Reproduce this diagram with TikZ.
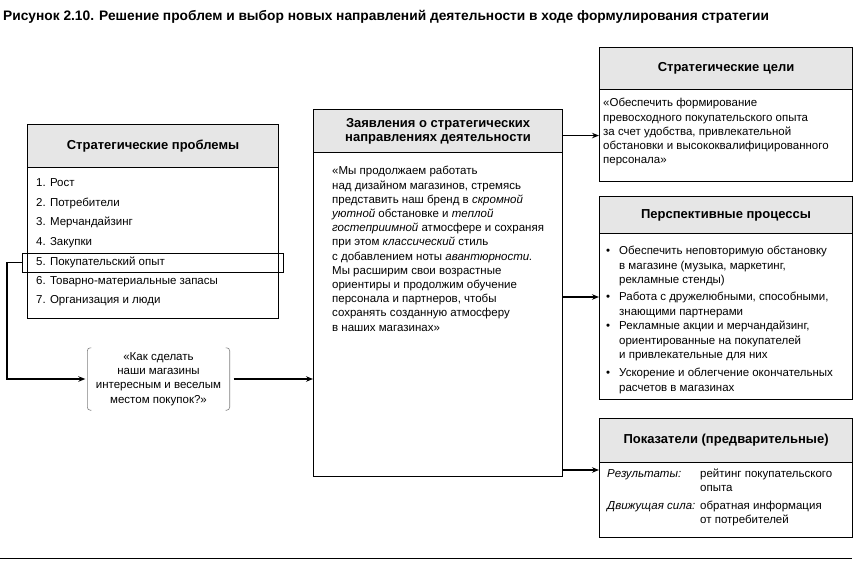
\documentclass[tikz,border=0pt]{standalone}
\usepackage{fontspec}
\setmainfont{Liberation Sans}
\usetikzlibrary{arrows.meta,calc}
\definecolor{hdrgray}{RGB}{230,230,230}
\tikzset{
  box/.style={draw, line width=1.1pt, anchor=north west, inner sep=0pt},
  hdr/.style={box, fill=hdrgray, font=\fontsize{13}{14}\selectfont\bfseries, align=center},
  arr/.style={line width=1.8pt, -{Stealth[length=7pt,width=5.5pt]}},
  txt/.style={font=\fontsize{11.5}{14.2}\selectfont, inner sep=0pt, align=left},
  brk/.style={draw=gray, line width=0.6pt, rounded corners=3pt},
}
\begin{document}
\begin{tikzpicture}[x=1pt,y=-1pt]
\useasboundingbox (0,0) rectangle (857,565);
% title and bottom rule
\node[anchor=base west, inner sep=0pt, font=\fontsize{13.75}{16}\selectfont\bfseries] (title) at (3,20)
  {Рисунок 2.10. Решение проблем и выбор новых направлений деятельности в ходе формулирования стратегии};
\draw[line width=1pt] (0,558) -- (852,558);

% left box
\node[hdr, minimum width=251, minimum height=43] (lh) at (27,124) {Стратегические проблемы};
\node[box, minimum width=251, minimum height=151] (lb) at (27,167) {};
\node[txt, anchor=base west] (i1) at (36,186.8) {1. Рост};
\node[txt, anchor=base west] (i2) at (36,206.3) {2. Потребители};
\node[txt, anchor=base west] (i3) at (36,225.8) {3. Мерчандайзинг};
\node[txt, anchor=base west] (i4) at (36,245.3) {4. Закупки};
\node[txt, anchor=base west] (i5) at (36,265) {5. Покупательский опыт};
\node[draw, line width=0.9pt, anchor=west, minimum width=261, minimum height=19, inner sep=0pt] (hl) at (22,262.5) {};
\node[txt, anchor=base west] (i6) at (36,284.3) {6. Товарно-материальные запасы};
\node[txt, anchor=base west] (i7) at (36,303.8) {7. Организация и люди};

% question node
\node[txt, align=center, minimum width=142, minimum height=62] (q) at (158.5,379)
  {«Как сделать\\наши магазины\\интересным и веселым\\местом покупок?»};
\draw[brk] ([xshift=4pt]q.north west) -- (q.north west) -- (q.south west) -- ([xshift=4pt]q.south west);
\draw[brk] ([xshift=-4pt]q.north east) -- (q.north east) -- (q.south east) -- ([xshift=-4pt]q.south east);

% middle box
\node[hdr, minimum width=249, minimum height=43] (mh) at (313,109) {Заявления о стратегических\\направлениях деятельности};
\node[box, minimum width=249, minimum height=324] (mb) at (313,152) {};
\node[txt, anchor=base west] (mt) at (332,331)
  {«Мы продолжаем работать\\
   над дизайном магазинов, стремясь\\
   представить наш бренд в \textit{скромной}\\
   \textit{уютной} обстановке и \textit{теплой}\\
   \textit{гостеприимной} атмосфере и сохраняя\\
   при этом \textit{классический} стиль\\
   с добавлением ноты \textit{авантюрности.}\\
   Мы расширим свои возрастные\\
   ориентиры и продолжим обучение\\
   персонала и партнеров, чтобы\\
   сохранять созданную атмосферу\\
   в наших магазинах»};

% right box 1
\node[hdr, minimum width=253, minimum height=42] (r1h) at (599,47) {Стратегические цели};
\node[box, minimum width=253, minimum height=92] (r1b) at (599,89) {};
\node[txt, anchor=base west] (r1t) at (603,163.6)
  {«Обеспечить формирование\\
   превосходного покупательского опыта\\
   за счет удобства, привлекательной\\
   обстановки и высококвалифицированного\\
   персонала»};

% right box 2
\node[hdr, minimum width=253, minimum height=37] (r2h) at (599,196) {Перспективные процессы};
\node[box, minimum width=253, minimum height=166] (r2b) at (599,233) {};
\node[txt, anchor=base west] (d1) at (606,254.8) {\textbullet};
\node[txt, anchor=base west] (b1) at (619,283.2) {Обеспечить неповторимую обстановку\\в магазине (музыка, маркетинг,\\рекламные стенды)};
\node[txt, anchor=base west] (d2) at (606,300.8) {\textbullet};
\node[txt, anchor=base west] (b2) at (619,315) {Работа с дружелюбными, способными,\\знающими партнерами};
\node[txt, anchor=base west] (d3) at (606,329.8) {\textbullet};
\node[txt, anchor=base west] (b3) at (619,358.2) {Рекламные акции и мерчандайзинг,\\ориентированные на покупателей\\и привлекательные для них};
\node[txt, anchor=base west] (d4) at (606,376.8) {\textbullet};
\node[txt, anchor=base west] (b4) at (619,391) {Ускорение и облегчение окончательных\\расчетов в магазинах};

% right box 3
\node[hdr, minimum width=253, minimum height=44] (r3h) at (599,418) {Показатели (предварительные)};
\node[box, minimum width=253, minimum height=75] (r3b) at (599,462) {};
\node[txt, anchor=base west] (k1) at (607,477) {\textit{Результаты:}};
\node[txt, anchor=base west] (v1) at (700,491.2) {рейтинг покупательского\\опыта};
\node[txt, anchor=base west] (k2) at (607,509.5) {\textit{Движущая сила:}};
\node[txt, anchor=base west] (v2) at (700,523.7) {обратная информация\\от потребителей};

% connectors
\coordinate (c1) at (7,262.5);
\draw[arr] (hl.west) -- (c1) |- ([xshift=-2pt]q.west);
\draw[arr] ([xshift=4pt]q.east) -- (q.east -| mb.west);
\draw[arr] (r1b.west -| mb.east) -- (r1b.west);
\path (r2b.north west) ++(0,64) coordinate (a2);
\draw[arr] (a2 -| mb.east) -- (a2);
\path (r3b.north west) ++(0,8) coordinate (a3);
\draw[arr] (a3 -| mb.east) -- (a3);
\end{tikzpicture}
\end{document}
